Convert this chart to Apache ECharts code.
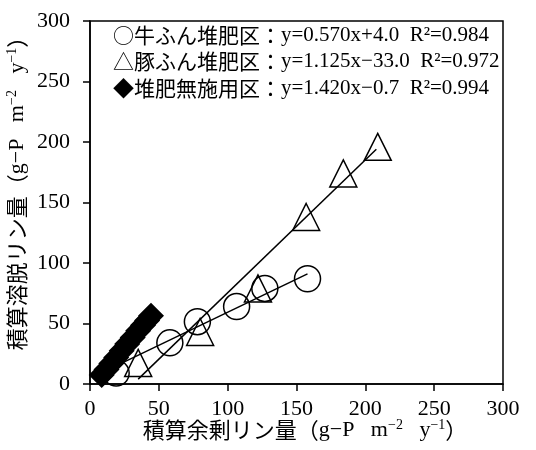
<!DOCTYPE html>
<html><head><meta charset="utf-8">
<script src="https://cdn.jsdelivr.net/npm/echarts@6/dist/echarts.min.js"></script>
<style>html,body{margin:0;padding:0;background:#fff}#c{width:536px;height:450px}</style>
</head><body><div id="c"></div>
<script>
// tick labels
const xTicks = [0, 50, 100, 150, 200, 250, 300];
const yTicks = [0, 50, 100, 150, 200, 250, 300];
// 牛ふん堆肥区 (circles)
const cowX = [19, 58, 78, 106.5, 127, 158];
const cowY = [9, 34, 51.5, 64, 79, 87];
// 豚ふん堆肥区 (triangles)
const pigX = [35, 80, 122, 157, 184, 209];
const pigY = [17.4, 43, 79, 138, 174, 196];
// 堆肥無施用区 (diamonds)
const noneX = [8.5, 12, 15.5, 19, 23, 27, 31, 35, 38.5, 41.5, 44.3];
const noneY = [7.4, 12, 17, 22, 27.5, 33, 38.5, 44, 48.5, 52.5, 56.4];
// regression lines, end points
const cowLineX = [17, 158];
const cowLineY = [14, 91];
const pigLineX = [35, 208];
const pigLineY = [4, 194];
const noneLineX = [6, 44];
const noneLineY = [8, 62];
// legend texts
const legendMarks = ['○牛ふん堆肥区：', '△豚ふん堆肥区：', '◆堆肥無施用区：'];
const legendEqs = ['y=0.570x+4.0  R²=0.984', 'y=1.125x−33.0  R²=0.972', 'y=1.420x−0.7  R²=0.994'];

const zip = (xs, ys) => xs.map((x, i) => [x, ys[i]]);
const CJK = '"Noto Sans CJK JP"';
const LAT = '"Liberation Serif"';
const black = '#000';

const axisCommon = (ticks) => ({
  type: 'value',
  min: ticks[0], max: ticks[ticks.length - 1], interval: ticks[1] - ticks[0],
  axisLine: { show: true, lineStyle: { color: black, width: 1.5 } },
  axisTick: { show: true, inside: false, length: 7, lineStyle: { color: black, width: 1.5 } },
  splitLine: { show: false },
  axisLabel: { color: black, fontFamily: LAT, fontSize: 22 }
});

const lineSeries = (xs, ys) => ({
  type: 'line', data: zip(xs, ys), showSymbol: false, symbol: 'none',
  lineStyle: { color: black, width: 1.5 }, silent: true, z: 2
});

const richName = {
  c: { fontFamily: CJK, fontSize: 22, color: black, lineHeight: 28 },
  a: { fontFamily: LAT, fontSize: 22, color: black, lineHeight: 28 },
  s: { fontFamily: LAT, fontSize: 14, color: black, lineHeight: 28, verticalAlign: 'top', padding: [2, 0, 0, 0] }
};

const chart = echarts.init(document.getElementById('c'), null, { renderer: 'canvas' });
const legendGraphics = legendMarks.map((m, i) => ({
  type: 'text', x: 113, y: 35 + i * 26.5, z: 10,
  style: {
    text: '{c|' + m + '}{a|' + legendEqs[i] + '}',
    rich: {
      c: { fontFamily: CJK, fontSize: 21, color: black },
      a: { fontFamily: LAT, fontSize: 21, color: black }
    },
    verticalAlign: 'middle', align: 'left'
  }
}));

chart.setOption({
  animation: false,
  backgroundColor: '#fff',
  grid: { left: 90, right: 33, top: 21, bottom: 66, show: true, borderColor: black, borderWidth: 1.5, backgroundColor: 'transparent' },
  xAxis: Object.assign(axisCommon(xTicks), { axisLabel: { color: black, fontFamily: LAT, fontSize: 22, margin: 14 } }),
  yAxis: Object.assign(axisCommon(yTicks), { axisLabel: { color: black, fontFamily: LAT, fontSize: 22, margin: 20 } }),
  graphic: legendGraphics.concat([
    {
      type: 'text', x: 305, y: 430, z: 10,
      style: {
        text: '{c|積算余剰リン量（}{a|g−P   m}{s|−2}{a|   y}{s|−1}{c|）}',
        rich: richName, align: 'center', verticalAlign: 'middle'
      }
    },
    {
      type: 'text', x: 17, y: 188, rotation: Math.PI / 2, z: 10,
      style: {
        text: '{c|積算溶脱リン量（}{a|g−P   m}{s|−2}{a|   y}{s|−1}{c|）}',
        rich: richName, align: 'center', verticalAlign: 'middle'
      }
    }
  ]),
  series: [
    lineSeries(cowLineX, cowLineY),
    lineSeries(pigLineX, pigLineY),
    lineSeries(noneLineX, noneLineY),
    {
      type: 'scatter', name: '牛ふん堆肥区', data: zip(cowX, cowY), symbol: 'circle', symbolSize: 26, z: 3,
      itemStyle: { color: 'rgba(0,0,0,0)', borderColor: black, borderWidth: 1.5, opacity: 1 }
    },
    {
      type: 'scatter', name: '豚ふん堆肥区', data: zip(pigX, pigY), symbol: 'triangle', symbolSize: 27, z: 3,
      itemStyle: { color: 'rgba(0,0,0,0)', borderColor: black, borderWidth: 1.5, opacity: 1 }
    },
    {
      type: 'scatter', name: '堆肥無施用区', data: zip(noneX, noneY), symbol: 'diamond', symbolSize: 26, z: 4,
      itemStyle: { color: black, borderColor: black, borderWidth: 0, opacity: 1 }
    }
  ]
});
</script></body></html>
